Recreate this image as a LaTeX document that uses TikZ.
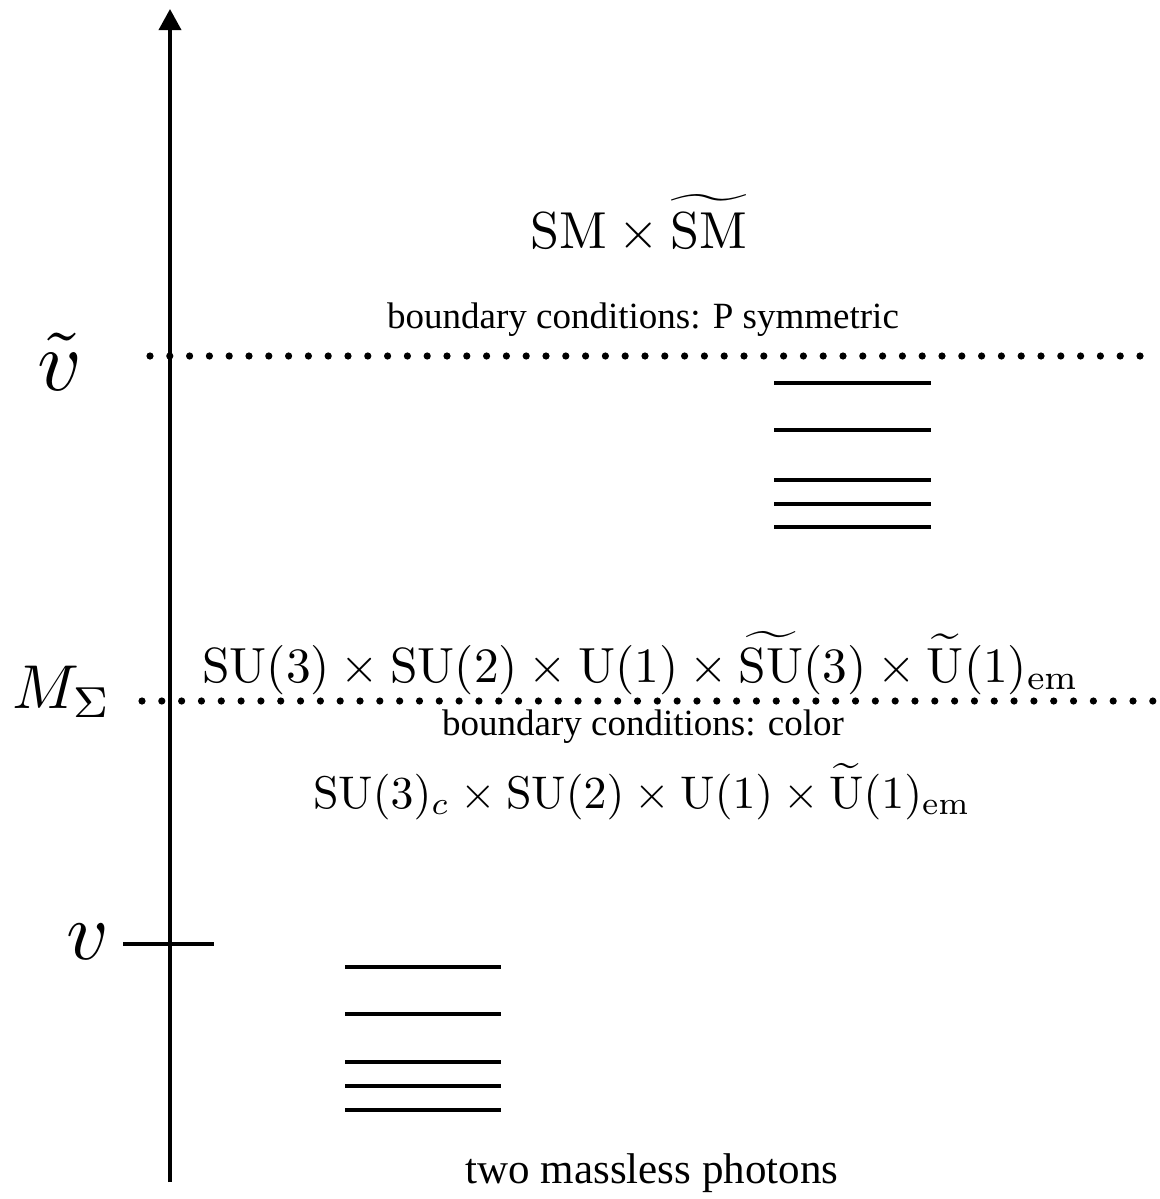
\documentclass[tikz,border=0pt]{standalone}
\usepackage{amsmath}
\usepackage{amssymb}
\usepackage{graphicx}
\usepackage{fontspec}
\newfontfamily\notefont{Liberation Serif}
\usetikzlibrary{arrows.meta}

\tikzset{
  levelline/.style={line width=2.3pt},
  grp/.style={anchor=base,inner sep=0pt},
  note/.style={anchor=base,inner sep=0pt,font=\notefont\fontsize{18.5}{22}\selectfont},
}

\begin{document}
\begin{tikzpicture}[x=0.5pt,y=-0.5pt]
  \useasboundingbox (0,0) rectangle (1160,1199);
  % the energy axis
  \coordinate (axbot) at (170,1182);
  \coordinate (axtop) at (170,9);
  \draw[line width=1.8pt,-{Triangle[length=10.5pt,width=11pt]}] (axbot) -- (axtop);
  % tick at v
  \coordinate (vl) at (123,944);
  \coordinate (vr) at (214,944);
  \draw[line width=1.8pt] (vl) -- (vr);
  % scale labels
  \node (vt) at (60,362) {\scalebox{4.3}{$\tilde{v}$}};
  \node (ms) at (62,692) {\scalebox{3.1}{$M_\Sigma$}};
  \node (vv) at (88,942) {\scalebox{4.1}{$v$}};
  % the two dotted thresholds
  \foreach \i in {0,...,50} {
    \fill (150+19.8*\i,356) circle (1.8pt);
  }
  \foreach \i in {0,...,51} {
    \fill (142+19.82*\i,701) circle (1.8pt);
  }
  % mirror spectrum
  \foreach \y in {383,430,480,504,527} {
    \draw[levelline] (774,\y) -- (931,\y);
  }
  % visible spectrum
  \foreach \y in {967,1014,1062,1086,1110} {
    \draw[levelline] (345,\y) -- (501,\y);
  }
  % groups and conditions
  \node[grp] (top) at (639,248) {\scalebox{2.6}{$\mathrm{SM}\times\widetilde{\mathrm{SM}}$}};
  \node[note] (bcp) at (643,328) {boundary conditions: P symmetric};
  \node[grp] (mid) at (641,682) {\scalebox{2.47}{$\mathrm{SU}(3)\times\mathrm{SU}(2)\times\mathrm{U}(1)\times\widetilde{\mathrm{SU}}(3)\times\widetilde{\mathrm{U}}(1)_{\mathrm{em}}$}};
  \node[note] (bcc) at (643,735) {boundary conditions: color};
  \node[grp] (low) at (642,808) {\scalebox{2.29}{$\mathrm{SU}(3)_c\times\mathrm{SU}(2)\times\mathrm{U}(1)\times\widetilde{\mathrm{U}}(1)_{\mathrm{em}}$}};
  \node[note,font=\notefont\fontsize{21.5}{24}\selectfont] (ph) at (652,1183) {two massless photons};
\end{tikzpicture}
\end{document}
